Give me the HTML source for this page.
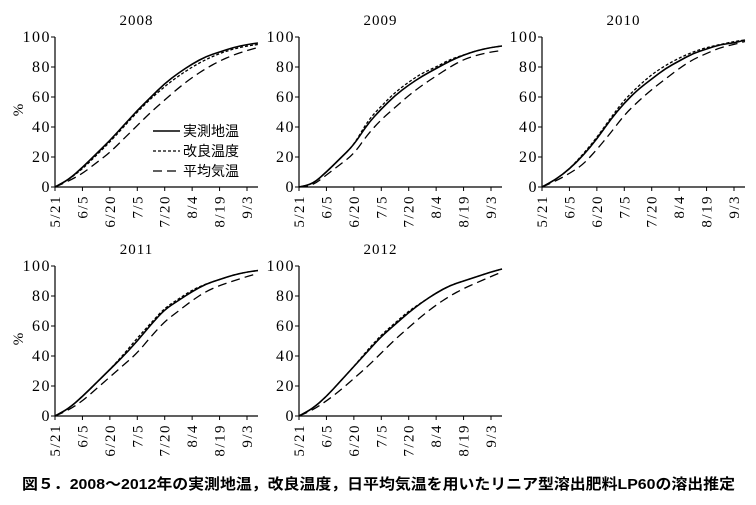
<!DOCTYPE html>
<html><head><meta charset="utf-8">
<style>
body{margin:0;background:#fff;}
svg{display:block;font-family:"Liberation Serif","Noto Serif CJK SC",serif;}
.cap{font-family:"Liberation Sans","Noto Sans CJK JP",sans-serif;font-weight:bold;font-size:15px;}
</style></head><body>
<svg id="chart" width="756" height="505" viewBox="0 0 756 505">
<text class="cap" x="22" y="489" textLength="713" lengthAdjust="spacingAndGlyphs">図５．2008～2012年の実測地温，改良温度，日平均気温を用いたリニア型溶出肥料LP60の溶出推定</text>
</svg>
<script>
const days=[0,7.5,15,22.5,30,37.5,45,52.5,60,67.5,75,82.5,90,97.5,105,111];
const xTickLabels=["5/21","6/5","6/20","7/5","7/20","8/4","8/19","9/3"];
const xTickDays=[0,15,30,45,60,75,90,105];
const yTicks=[0,20,40,60,80,100];
const years=["2008","2009","2010","2011","2012"];
const solid2008=[0,5,13,22,31,41,51,60,69,76,82,87,90,93,95,96];
const dotted2008=[0,5,12,21,30,40,50,59,67,74,80,85,89,92,94,95];
const dashed2008=[0,4,9,16,23,32,41,50,58,66,73,79,84,88,91,93];
const solid2009=[0,2,10,19,28,42,52,61,68,74,79,84,88,91,93,94];
const dotted2009=[0,2,10,19,28,44,54,63,70,76,80,85,88,91,93,94];
const dashed2009=[0,1,8,15,22,35,45,53,61,68,74,80,85,88,90,91];
const solid2010=[0,5,12,21,32,45,56,65,72,79,84,89,92,95,96,98];
const dotted2010=[0,5,12,22,33,46,58,67,75,81,86,90,93,95,97,98];
const dashed2010=[0,4,9,15,25,36,48,57,65,72,79,85,89,93,95,97];
const solid2011=[0,5,13,22,31,40,50,61,71,77,83,88,91,94,96,97];
const dotted2011=[0,5,13,22,31,41,52,62,72,78,84,88,91,94,96,97];
const dashed2011=[0,4,10,18,26,34,42,53,63,70,77,83,87,90,93,95];
const solid2012=[0,5,13,23,33,43,53,61,69,76,82,87,90,93,96,98];
const dotted2012=[0,5,13,23,33,44,54,62,70,76,82,87,90,93,96,98];
const dashed2012=[0,4,10,17,25,33,42,51,59,67,74,80,85,89,93,96];
const series={"2008":[solid2008,dotted2008,dashed2008],"2009":[solid2009,dotted2009,dashed2009],"2010":[solid2010,dotted2010,dashed2010],"2011":[solid2011,dotted2011,dashed2011],"2012":[solid2012,dotted2012,dashed2012]};
const legendLabels=["実測地温","改良温度","平均気温"];
const origins=[[55,37],[299,37],[542,37],[55,266],[299,266]];
const W=203,H=150,pxPerDay=192/105;
const dashes=["","3,2","9,5"];
const NS="http://www.w3.org/2000/svg";
const svg=document.getElementById('chart');
function mk(tag,attrs,parent){const e=document.createElementNS(NS,tag);for(const k in attrs)e.setAttribute(k,attrs[k]);(parent||svg).appendChild(e);return e;}
years.forEach((yr,i)=>{
  const [ox,oy]=origins[i];
  const xs=d=>ox+d*pxPerDay, ys=v=>oy+H-v*H/100;
  const g=mk('g',{});
  
  
  const t=mk('text',{x:ox+W/2-20,y:oy-12,'text-anchor':'middle','font-size':'15','letter-spacing':'1'},g);t.textContent=yr;
  
  
  const ya=mk('line',{x1:ox,y1:oy,x2:ox,y2:oy+H,stroke:'#000','stroke-width':1.2},g);
  
  
  const xa=mk('line',{x1:ox,y1:oy+H,x2:ox+W,y2:oy+H,stroke:'#000','stroke-width':1.2},g);
  
  
  yTicks.forEach(v=>{
    mk('line',{x1:ox-4,y1:ys(v),x2:ox,y2:ys(v),stroke:'#000'},g);
    const l=mk('text',{x:ox-4,y:ys(v)+5,'text-anchor':'end','font-size':'16','letter-spacing':'1.5'},g);l.textContent=v;
    
    
  });
  xTickDays.forEach((d,j)=>{
    mk('line',{x1:xs(d),y1:oy+H,x2:xs(d),y2:oy+H+4,stroke:'#000'},g);
    const l=mk('text',{transform:`translate(${xs(d)+5},${oy+H+8}) rotate(-90)`,'text-anchor':'end','font-size':'15','letter-spacing':'1.5'},g);l.textContent=xTickLabels[j];
    
    
  });
  if(i==0||i==3){const p=mk('text',{transform:`translate(23,${oy+73}) rotate(-90)`,'text-anchor':'middle','font-size':'15'},g);p.textContent='%';
    
    }
  series[yr].forEach((arr,k)=>{
    const pts=arr.map((v,j)=>[xs(days[j]),ys(v)]);
    let d='M'+pts[0][0]+','+pts[0][1];
    for(let j=1;j<pts.length;j++){const p0=pts[j-1],p1=pts[j];const mx=(p0[0]+p1[0])/2;d+=` Q${p0[0]},${p0[1]} ${mx},${(p0[1]+p1[1])/2}`;}
    d+=` L${pts[pts.length-1][0]},${pts[pts.length-1][1]}`;
    const path=mk('path',{d:d,fill:'none',stroke:'#000','stroke-width':k==0?1.6:1.3,'stroke-dasharray':dashes[k]},g);
    
    
  });
  if(i==0){
    legendLabels.forEach((lab,k)=>{
      const y=131+k*20;
      mk('line',{x1:153,y1:y,x2:180,y2:y,stroke:'#000','stroke-width':k==0?1.6:1.3,'stroke-dasharray':dashes[k]},g);
      const tx=mk('text',{x:183,y:y+5,'font-size':'14','font-family':'"Liberation Sans","Noto Sans CJK JP",sans-serif'},g);tx.textContent=lab;
      
      
    });
  }
});
</script>
</body></html>
